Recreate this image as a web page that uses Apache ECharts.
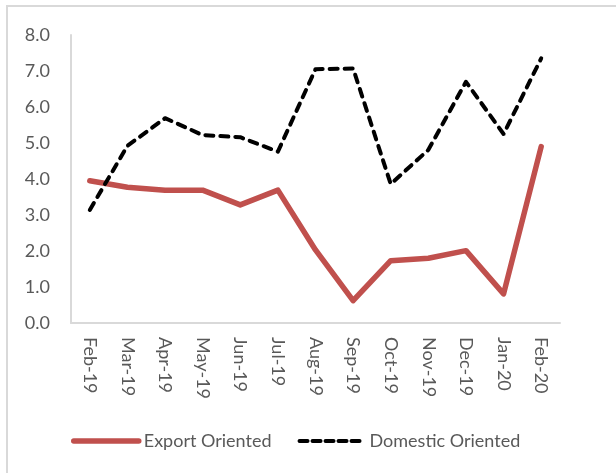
<!DOCTYPE html>
<html>
<head>
<meta charset="utf-8">
<script src="https://cdn.jsdelivr.net/npm/echarts@6/dist/echarts.min.js"></script>
<style>
html,body{margin:0;padding:0;background:#fff;}
#chart{width:616px;height:473px;}
</style>
</head>
<body>
<div id="chart"></div>
<script>
const categories = ['Feb-19','Mar-19','Apr-19','May-19','Jun-19','Jul-19','Aug-19','Sep-19','Oct-19','Nov-19','Dec-19','Jan-20','Feb-20'];
const exportOriented = [3.95, 3.77, 3.69, 3.69, 3.28, 3.69, 2.03, 0.62, 1.73, 1.80, 2.01, 0.81, 4.90];
const domesticOriented = [3.14, 4.92, 5.69, 5.22, 5.16, 4.76, 7.05, 7.07, 3.86, 4.81, 6.70, 5.25, 7.35];
const seriesNames = ['Export Oriented', 'Domestic Oriented'];

const chart = echarts.init(document.getElementById('chart'), null, {renderer:'canvas'});
const font = 'Lato, "Liberation Sans Narrow", sans-serif';
chart.setOption({
  backgroundColor: '#ffffff',
  animation: false,
  graphic: [{
    type: 'rect',
    shape: {x: 7, y: 6, width: 700, height: 600},
    style: {fill: 'none', stroke: '#d9d9d9', lineWidth: 2},
    silent: true
  }],
  grid: {left: 71, right: 56, top: 35, bottom: 150},
  legend: {
    bottom: 18,
    left: 66,
    itemWidth: 65,
    itemHeight: 14,
    itemGap: 26,
    itemStyle: {opacity: 0},
    textStyle: {fontFamily: font, fontSize: 18, color: '#595959'},
    data: [
      {name: seriesNames[0], lineStyle: {width: 5.5, color: '#C0504D', cap: 'round'}},
      {name: seriesNames[1], lineStyle: {width: 4, color: '#000000', type: [8, 5], cap: 'round'}}
    ]
  },
  xAxis: {
    type: 'category',
    data: categories,
    boundaryGap: true,
    axisLine: {lineStyle: {color: '#d9d9d9', width: 2}},
    axisTick: {show: false},
    axisLabel: {rotate: -90, margin: 14, fontFamily: font, fontSize: 18, color: '#595959', interval: 0}
  },
  yAxis: {
    type: 'value',
    min: 0, max: 8, interval: 1,
    axisLine: {show: true, lineStyle: {color: '#d9d9d9', width: 2}},
    axisTick: {show: false},
    splitLine: {show: false},
    axisLabel: {formatter: v => v.toFixed(1), margin: 21, fontFamily: font, fontSize: 18, color: '#595959'}
  },
  series: [
    {
      name: seriesNames[0], type: 'line', data: exportOriented,
      symbol: 'none', showSymbol: false,
      lineStyle: {color: '#C0504D', width: 5.5, cap: 'round', join: 'round'},
      itemStyle: {color: '#C0504D'}
    },
    {
      name: seriesNames[1], type: 'line', data: domesticOriented,
      symbol: 'none', showSymbol: false,
      lineStyle: {color: '#000000', width: 4, type: [8, 7], cap: 'round', join: 'round'},
      itemStyle: {color: '#000000'}
    }
  ]
});
</script>
</body>
</html>
